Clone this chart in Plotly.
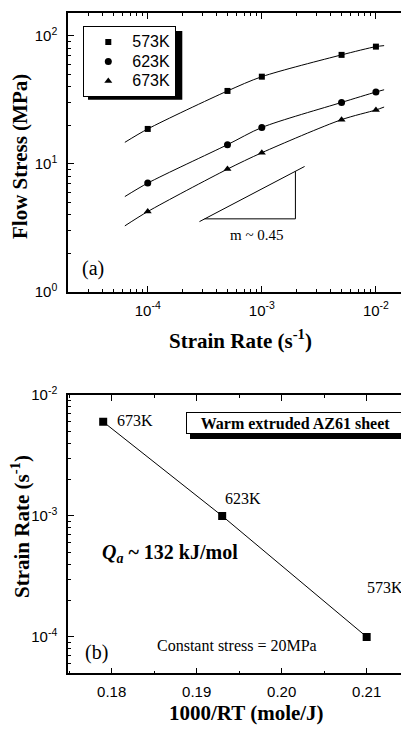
import plotly.graph_objects as go
import numpy as np

# page offset: the browser body adds an 8px margin around the plot div
OFF = 8
W, H = 409 - OFF, 731 - OFF

# ---------------- Panel (a) data ----------------
rate_pts = [1e-4, 5e-4, 1e-3, 5e-3, 1e-2]
stress_573 = [18.7, 37.0, 47.8, 70.7, 82.0]
stress_623 = [7.07, 14.1, 19.2, 30.1, 36.3]
stress_673 = [4.24, 9.09, 12.2, 22.1, 26.3]
temps_a = ["573K", "623K", "673K"]

# fitted curves (start, data points, end)
fit_rate = [6.3e-5, 1e-4, 5e-4, 1e-3, 5e-3, 1e-2, 1.18e-2]
fit_573 = [14.7, 18.7, 37.0, 47.8, 70.7, 82.0, 83.5]
fit_623 = [5.55, 7.07, 14.1, 19.2, 30.1, 36.3, 37.8]
fit_673 = [3.28, 4.24, 9.09, 12.2, 22.1, 26.3, 27.7]

# slope triangle (m ~ 0.45)
tri_hyp_x = [2.84e-4, 2.37e-3]
tri_hyp_y = [3.54, 9.53]
tri_leg_x = [3.15e-4, 1.97e-3, 1.97e-3]
tri_leg_y = [3.72, 3.72, 8.75]

# ---------------- Panel (b) data ----------------
inv_rt = [0.179, 0.193, 0.210]
rate_b = [6e-3, 1e-3, 1e-4]
temps_b = ["673K", "623K", "573K"]

SERIF = "Liberation Serif, Times New Roman, serif"
SANS = "Liberation Sans, Arial, sans-serif"


def px_x(p):
    return (p - OFF) / W


def px_y(p):
    return 1 - (p - OFF) / H


fig = go.Figure()

symbols = ["square", "circle", "triangle-up"]
sizes = [6, 7, 7]
for fit_y, pts, name, sym, sz in zip([fit_573, fit_623, fit_673],
                                     [stress_573, stress_623, stress_673],
                                     temps_a, symbols, sizes):
    fig.add_trace(go.Scatter(x=fit_rate, y=fit_y, mode="lines",
                             line=dict(color="black", width=1, shape="spline", smoothing=0.8),
                             showlegend=False, hoverinfo="skip", xaxis="x", yaxis="y"))
    fig.add_trace(go.Scatter(x=rate_pts, y=pts, mode="markers",
                             name='<span style="font-size:16px">' + name + '</span>',
                             marker=dict(symbol=sym, size=sz, color="black"),
                             xaxis="x", yaxis="y"))

fig.add_trace(go.Scatter(x=tri_hyp_x, y=tri_hyp_y, mode="lines", line=dict(color="black", width=1),
                         showlegend=False, xaxis="x", yaxis="y"))
fig.add_trace(go.Scatter(x=tri_leg_x, y=tri_leg_y, mode="lines", line=dict(color="black", width=1),
                         showlegend=False, xaxis="x", yaxis="y"))

fig.add_trace(go.Scatter(x=inv_rt, y=rate_b, mode="lines+markers",
                         line=dict(color="black", width=1),
                         marker=dict(symbol="square", size=8, color="black"),
                         showlegend=False, xaxis="x2", yaxis="y2"))

x0 = px_x(68)
ya = [px_y(292), px_y(13)]
yb = [px_y(673.3), px_y(395)]

axis_common = dict(showline=True, linecolor="black", linewidth=1.5, mirror="ticks",
                   ticks="inside", ticklen=6, tickwidth=1, tickcolor="black",
                   showgrid=False, zeroline=False, automargin=False,
                   tickfont=dict(family=SANS, size=15, color="black"))
minor_log = dict(ticks="inside", ticklen=3, tickwidth=1, tickcolor="black", showgrid=False)

fig.update_layout(
    width=W, height=H, margin=dict(l=0, r=0, t=0, b=0, autoexpand=False),
    plot_bgcolor="white", paper_bgcolor="white",
    xaxis=dict(axis_common, type="log", domain=[x0, 1], anchor="y",
               range=[np.log10(2e-5), -1.71],
               tickvals=[1e-4, 1e-3, 1e-2],
               ticktext=["10<sup>-4</sup>", "10<sup>-3</sup>", "10<sup>-2</sup>"],
               minor=dict(minor_log, dtick="D1"), ticklabelstandoff=4),
    yaxis=dict(axis_common, type="log", domain=ya, anchor="x",
               range=[0, np.log10(150)],
               tickvals=[1, 10, 100],
               ticktext=["10<sup>0</sup>", "10<sup>1</sup>", "10<sup>2</sup>"],
               minor=dict(minor_log, dtick="D1"), ticklabelstandoff=6),
    xaxis2=dict(axis_common, domain=[x0, 1], anchor="y2",
                range=[0.17486, 0.21498],
                tickvals=[0.18, 0.19, 0.20, 0.21],
                ticktext=["0.18", "0.19", "0.20", "0.21"],
                minor=dict(ticks="inside", ticklen=3, tickwidth=1, tickcolor="black",
                           dtick=0.005, tick0=0.175, showgrid=False),
                ticklabelstandoff=4),
    yaxis2=dict(axis_common, type="log", domain=yb, anchor="x2",
                range=[np.log10(5e-5), -2],
                tickvals=[1e-4, 1e-3, 1e-2],
                ticktext=["10<sup>-4</sup>", "10<sup>-3</sup>", "10<sup>-2</sup>"],
                minor=dict(minor_log, dtick="D1"), ticklabelstandoff=6),
    legend=dict(x=px_x(83.3), y=px_y(26.3), xanchor="left", yanchor="top",
                bgcolor="white", bordercolor="black", borderwidth=1,
                font=dict(family=SANS, size=12.7, color="black"),
                itemwidth=38, tracegroupgap=0),
    showlegend=True,
)

# legend shadow
fig.add_shape(type="rect", xref="paper", yref="paper",
              x0=px_x(88), x1=px_x(182.3), y0=px_y(99.7), y1=px_y(31),
              fillcolor="black", line=dict(width=0), layer="above")

# AZ61 box shadow
fig.add_shape(type="rect", xref="paper", yref="paper",
              x0=px_x(190), x1=px_x(409), y0=px_y(439), y1=px_y(416),
              fillcolor="black", line=dict(width=0), layer="above")

annos = [
    dict(text="<b>Flow Stress (MPa)</b>", x=px_x(20), y=px_y(157), textangle=-90,
         font=dict(family=SERIF, size=21)),
    dict(text="<b>Strain Rate (s<sup>-1</sup>)</b>", x=px_x(240), y=px_y(340),
         font=dict(family=SERIF, size=21)),
    dict(text="<b>Strain Rate (s<sup>-1</sup>)</b>", x=px_x(20), y=px_y(527), textangle=-90,
         font=dict(family=SERIF, size=21)),
    dict(text="<b>1000/RT (mole/J)</b>", x=px_x(246), y=px_y(713),
         font=dict(family=SERIF, size=21)),
    dict(text="m ~ 0.45", x=px_x(257), y=px_y(235), font=dict(family=SERIF, size=15)),
    dict(text="(a)", x=px_x(93), y=px_y(268), font=dict(family=SERIF, size=20)),
    dict(text="(b)", x=px_x(96), y=px_y(652), font=dict(family=SERIF, size=20)),
    dict(text="Constant stress = 20MPa", x=px_x(237), y=px_y(645), font=dict(family=SERIF, size=16)),
    dict(text="<b><i>Q<sub>a</sub></i> ~ 132 kJ/mol</b>", x=px_x(170), y=px_y(553),
         font=dict(family=SERIF, size=20)),
    dict(text="<b>Warm extruded AZ61 sheet</b>", x=px_x(295.5), y=px_y(423),
         font=dict(family=SERIF, size=16), bgcolor="white", bordercolor="black",
         borderwidth=1, width=215, height=18, borderpad=1),
]
for a in annos:
    a.setdefault("xref", "paper")
    a.setdefault("yref", "paper")
    a["xanchor"] = "center"
    a["yanchor"] = "middle"
    a["showarrow"] = False
    a["font"]["color"] = "black"
    fig.add_annotation(**a)

# temperature labels in panel (b)
label_pos = [(135, 420), (243, 498), (385, 587)]
for t, (lx, ly) in zip(temps_b, label_pos):
    fig.add_annotation(text=t, x=px_x(lx), y=px_y(ly), xref="paper", yref="paper",
                       xanchor="center", yanchor="middle",
                       showarrow=False, font=dict(family=SERIF, size=16, color="black"))

fig.write_html("out.html")
